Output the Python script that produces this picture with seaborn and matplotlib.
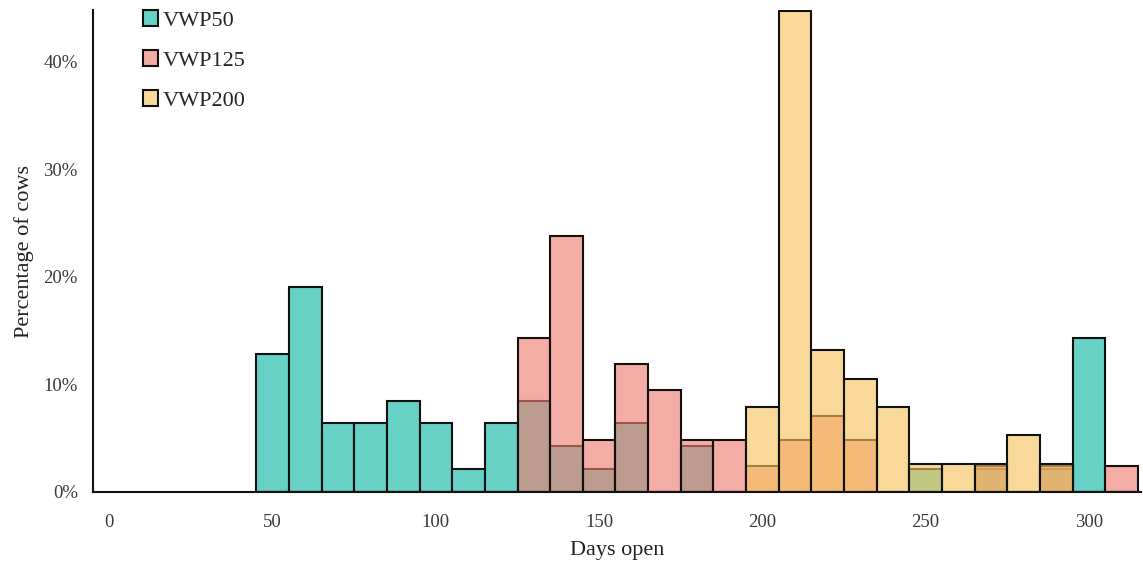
import matplotlib
matplotlib.use("Agg")
import matplotlib.pyplot as plt
import seaborn as sns
from matplotlib.ticker import PercentFormatter

# ---------------- DATA (bin centres in days, share of cows in %) ----------------
bin_edges = list(range(45, 325, 10))

vwp50_days = [50, 60, 70, 80, 90, 100, 110, 120, 130, 140, 150, 160, 180, 250, 270, 290, 300]
vwp50_pct = [12.8, 19.1, 6.4, 6.4, 8.5, 6.4, 2.1, 6.4, 8.5, 4.3, 2.1, 6.4, 4.3, 2.1, 2.1, 2.1, 14.3]

vwp125_days = [130, 140, 150, 160, 170, 180, 190, 200, 210, 220, 230, 270, 290, 310]
vwp125_pct = [14.3, 23.8, 4.8, 11.9, 9.5, 4.8, 4.8, 2.4, 4.8, 7.1, 4.8, 2.4, 2.4, 2.4]

vwp200_days = [200, 210, 220, 230, 240, 250, 260, 270, 280, 290]
vwp200_pct = [7.9, 44.7, 13.2, 10.5, 7.9, 2.6, 2.6, 2.6, 5.3, 2.6]

x_ticks = [0, 50, 100, 150, 200, 250, 300]
y_ticks = [0, 10, 20, 30, 40]

# ---------------- STYLE ----------------
sns.set_style("white")
plt.rcParams["font.family"] = ["Liberation Serif", "DejaVu Serif"]

fig = plt.figure(figsize=(11.43, 5.70), dpi=100)
ax = fig.add_axes([0.0814, 0.137, 0.917, 0.845])

groups = [
    ("VWP50", vwp50_days, vwp50_pct, "#66d1c4", 1.0),
    ("VWP125", vwp125_days, vwp125_pct, "#ee7d6f", 0.63),
    ("VWP200", vwp200_days, vwp200_pct, "#f7c35f", 0.63),
]

for name, days, pct, col, a in groups:
    sns.histplot(
        x=days, weights=pct, bins=bin_edges,
        color=col, alpha=a, edgecolor="#111111", linewidth=1.5,
        label=name, ax=ax,
    )

ax.set_xlim(-5, 316)
ax.set_ylim(0, 44.8)
ax.set_xticks(x_ticks)
ax.set_yticks(y_ticks)
ax.yaxis.set_major_formatter(PercentFormatter(decimals=0))
ax.tick_params(length=0, labelsize=13.5, colors="#3a3a3a")
ax.tick_params(axis="x", pad=16)
ax.tick_params(axis="y", pad=11)

ax.set_xlabel("Days open", fontsize=16, color="#222222", labelpad=7)
ax.set_ylabel("Percentage of cows", fontsize=16, color="#222222", labelpad=7)

sns.despine(ax=ax)
for side in ["left", "bottom"]:
    ax.spines[side].set_color("#111111")
    ax.spines[side].set_linewidth(1.5)

ax.legend(
    loc="upper left", bbox_to_anchor=(0.039, 1.018), frameon=False,
    fontsize=16, handlelength=0.7, handleheight=0.7, handletextpad=0.2,
    labelspacing=0.87, borderaxespad=0,
)

plt.savefig("out.png", dpi=100)
